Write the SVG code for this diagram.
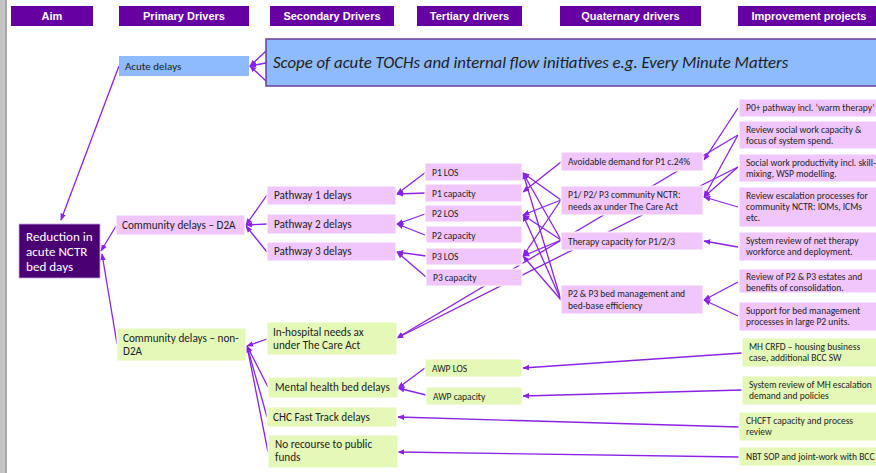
<svg xmlns="http://www.w3.org/2000/svg" width="876" height="473" viewBox="0 0 876 473">
<style>
.hdr{fill:#6600a3}
.ht{fill:#fff;font-family:"Liberation Sans",Arial,sans-serif;font-weight:bold;font-size:11px;text-anchor:middle}
.pk{fill:#f0c6fc;stroke:#fff;stroke-width:1}
.gr{fill:#e4f8b8;stroke:#fff;stroke-width:1}
.bl{fill:#8ebbfb}
.t{font-family:Carlito,Lato,"Liberation Sans",sans-serif;fill:#1e1e1e}
.s9{font-size:9.5px}
.s10{font-size:11.2px}
.cn line{stroke:#8a22e6;stroke-width:1.3;marker-end:url(#ah)}
</style>
<defs>
<marker id="ah" viewBox="0 0 10 10" refX="9" refY="5" markerWidth="7" markerHeight="7" markerUnits="userSpaceOnUse" orient="auto">
<path d="M0,1 L10,5 L0,9 z" fill="#8a22e6"/>
</marker>
</defs>
<rect x="0" y="0" width="876" height="473" fill="#fff"/>
<rect x="0" y="0" width="7" height="473" fill="#c4c4c4"/>
<rect x="5" y="0" width="2" height="473" fill="#a8a8a8"/>

<g id="headers">
<rect class="hdr" x="11" y="6" width="82" height="20"/><text class="ht" x="52" y="20">Aim</text>
<rect class="hdr" x="119" y="6" width="130" height="20"/><text class="ht" x="184" y="20">Primary Drivers</text>
<rect class="hdr" x="270" y="6" width="124" height="20"/><text class="ht" x="332" y="20">Secondary Drivers</text>
<rect class="hdr" x="417" y="6" width="105" height="20"/><text class="ht" x="469.5" y="20">Tertiary drivers</text>
<rect class="hdr" x="560" y="6" width="141" height="20"/><text class="ht" x="630.5" y="20">Quaternary drivers</text>
<rect class="hdr" x="738" y="6" width="140" height="20"/><text class="ht" x="809" y="20">Improvement projects</text>
</g>

<g class="cn" id="connectors">
<line x1="119" y1="66" x2="61" y2="220"/>
<line x1="266" y1="51" x2="250" y2="66"/>
<line x1="266" y1="63" x2="250" y2="66"/>
<line x1="266" y1="81" x2="250" y2="66"/>
<line x1="116" y1="226" x2="101" y2="251"/>
<line x1="117" y1="344" x2="102" y2="254"/>
<line x1="267" y1="195" x2="246" y2="225"/>
<line x1="267" y1="224" x2="246" y2="225"/>
<line x1="267" y1="252" x2="246" y2="226"/>
<line x1="426" y1="172" x2="397" y2="194"/>
<line x1="426" y1="193" x2="397" y2="194"/>
<line x1="425" y1="214" x2="397" y2="224"/>
<line x1="425" y1="235" x2="397" y2="224"/>
<line x1="426" y1="256" x2="397" y2="252"/>
<line x1="426" y1="277" x2="397" y2="252"/>
<line x1="267" y1="339" x2="247" y2="346"/>
<line x1="268" y1="387" x2="247" y2="346"/>
<line x1="267" y1="417" x2="247" y2="346"/>
<line x1="268" y1="452" x2="247" y2="346"/>
<line x1="425" y1="368" x2="398" y2="388"/>
<line x1="426" y1="395" x2="398" y2="388"/>
<line x1="561" y1="162" x2="523" y2="192"/>
<line x1="561" y1="200" x2="523" y2="173"/>
<line x1="561" y1="200" x2="523" y2="215"/>
<line x1="561" y1="200" x2="523" y2="256"/>
<line x1="561" y1="240" x2="523" y2="173"/>
<line x1="561" y1="240" x2="523" y2="215"/>
<line x1="561" y1="240" x2="523" y2="256"/>
<line x1="561" y1="300" x2="523" y2="173"/>
<line x1="561" y1="300" x2="523" y2="215"/>
<line x1="561" y1="300" x2="523" y2="256"/>
<line x1="738" y1="108" x2="704" y2="160"/>
<line x1="738" y1="135" x2="704" y2="197"/>
<line x1="738" y1="135" x2="397" y2="338"/>
<line x1="738" y1="167" x2="704" y2="197"/>
<line x1="738" y1="167" x2="397" y2="338"/>
<line x1="738" y1="207" x2="704" y2="197"/>
<line x1="738" y1="247" x2="704" y2="241"/>
<line x1="738" y1="282" x2="704" y2="300"/>
<line x1="738" y1="316" x2="704" y2="300"/>
<line x1="742" y1="353" x2="523" y2="368"/>
<line x1="742" y1="390" x2="523" y2="396"/>
<line x1="739" y1="427" x2="398" y2="417"/>
<line x1="739" y1="457" x2="398" y2="452"/>
</g>

<g id="aim">
<rect x="19" y="224" width="81" height="54" fill="#4a0072" stroke="#c9a6e6" stroke-width="0.8"/>
<text class="t" x="26" y="241" font-size="13.1" style="fill:#fff">Reduction in</text>
<text class="t" x="26" y="256" font-size="13.1" style="fill:#fff">acute NCTR</text>
<text class="t" x="26" y="271" font-size="13.1" style="fill:#fff">bed days</text>
</g>

<g id="acute-delays"><rect class="bl" x="119" y="56" width="130" height="20"/><text class="t" font-size="11" x="125" y="70">Acute delays</text></g>
<g id="scope"><rect x="266" y="39" width="614" height="47" fill="#8ebbfb" stroke="#6a3f9c" stroke-width="1.5"/><text class="t" x="273" y="68" font-size="16.8" font-style="italic">Scope of acute TOCHs and internal flow initiatives e.g. Every Minute Matters</text></g>

<g id="d2a"><rect class="pk" x="116" y="215" width="129" height="20"/><text class="t s10" x="122" y="229">Community delays – D2A</text></g>
<g id="non-d2a"><rect class="gr" x="117" y="328" width="129" height="33"/><text class="t s10" x="123" y="342">Community delays – non-</text><text class="t s10" x="123" y="355">D2A</text></g>

<g id="pathway1"><rect class="pk" x="267" y="186" width="129" height="19"/><text class="t s10" x="274" y="199">Pathway 1 delays</text></g>
<g id="pathway2"><rect class="pk" x="267" y="214" width="129" height="20"/><text class="t s10" x="274" y="228">Pathway 2 delays</text></g>
<g id="pathway3"><rect class="pk" x="267" y="242" width="129" height="19"/><text class="t s10" x="274" y="255">Pathway 3 delays</text></g>
<g id="in-hospital"><rect class="gr" x="267" y="322" width="130" height="33"/><text class="t s10" x="273" y="336">In-hospital needs ax</text><text class="t s10" x="273" y="349">under The Care Act</text></g>
<g id="mental-health"><rect class="gr" x="268" y="377" width="130" height="21"/><text class="t s10" x="275" y="391">Mental health bed delays</text></g>
<g id="chc"><rect class="gr" x="267" y="407" width="130" height="20"/><text class="t s10" x="273" y="421">CHC Fast Track delays</text></g>
<g id="no-recourse"><rect class="gr" x="268" y="435" width="130" height="33"/><text class="t s10" x="275" y="448">No recourse to public</text><text class="t s10" x="275" y="461">funds</text></g>

<g id="p1-los"><rect class="pk" x="425" y="163" width="97" height="18"/><text class="t s9" x="432" y="176">P1 LOS</text></g>
<g id="p1-cap"><rect class="pk" x="425" y="184" width="97" height="18"/><text class="t s9" x="432" y="197">P1 capacity</text></g>
<g id="p2-los"><rect class="pk" x="425" y="205" width="97" height="17"/><text class="t s9" x="432" y="217">P2 LOS</text></g>
<g id="p2-cap"><rect class="pk" x="426" y="226" width="96" height="17"/><text class="t s9" x="432" y="239">P2 capacity</text></g>
<g id="p3-los"><rect class="pk" x="426" y="248" width="96" height="17"/><text class="t s9" x="432" y="260">P3 LOS</text></g>
<g id="p3-cap"><rect class="pk" x="426" y="269" width="96" height="17"/><text class="t s9" x="433" y="281">P3 capacity</text></g>
<g id="awp-los"><rect class="gr" x="425" y="359" width="97" height="18"/><text class="t s9" x="432" y="372">AWP LOS</text></g>
<g id="awp-cap"><rect class="gr" x="426" y="387" width="96" height="18"/><text class="t s9" x="433" y="400">AWP capacity</text></g>

<g id="avoidable"><rect class="pk" x="561" y="152" width="142" height="19"/><text class="t s9" x="568" y="165">Avoidable demand for P1 c.24%</text></g>
<g id="nctr"><rect class="pk" x="561" y="186" width="142" height="29"/><text class="t s9" x="568" y="198">P1/ P2/ P3 community NCTR:</text><text class="t s9" x="568" y="210">needs ax under The Care Act</text></g>
<g id="therapy"><rect class="pk" x="561" y="232" width="142" height="18"/><text class="t s9" x="568" y="245">Therapy capacity for P1/2/3</text></g>
<g id="bed-mgmt"><rect class="pk" x="561" y="285" width="142" height="29"/><text class="t s9" x="568" y="297">P2 &amp; P3 bed management and</text><text class="t s9" x="568" y="309">bed-base efficiency</text></g>

<g id="p0"><rect class="pk" x="739" y="99" width="140" height="18"/><text class="t s9" x="746" y="111">P0+ pathway incl. ‘warm therapy’</text></g>
<g id="sw-capacity"><rect class="pk" x="739" y="121" width="140" height="28"/><text class="t s9" x="746" y="133">Review social work capacity &amp;</text><text class="t s9" x="746" y="144">focus of system spend.</text></g>
<g id="sw-productivity"><rect class="pk" x="739" y="154" width="140" height="28"/><text class="t s9" x="746" y="166">Social work productivity incl. skill-</text><text class="t s9" x="746" y="177">mixing, WSP modelling.</text></g>
<g id="escalation"><rect class="pk" x="739" y="187" width="140" height="40"/><text class="t s9" x="746" y="199">Review escalation processes for</text><text class="t s9" x="746" y="210">community NCTR: IOMs, ICMs</text><text class="t s9" x="746" y="221">etc.</text></g>
<g id="net-therapy"><rect class="pk" x="739" y="232" width="140" height="29"/><text class="t s9" x="746" y="244">System review of net therapy</text><text class="t s9" x="746" y="255">workforce and deployment.</text></g>
<g id="estates"><rect class="pk" x="739" y="269" width="140" height="24"/><text class="t s9" x="746" y="280">Review of P2 &amp; P3 estates and</text><text class="t s9" x="746" y="291">benefits of consolidation.</text></g>
<g id="bed-support"><rect class="pk" x="739" y="302" width="140" height="29"/><text class="t s9" x="746" y="314">Support for bed management</text><text class="t s9" x="746" y="325">processes in large P2 units.</text></g>
<g id="mh-crfd"><rect class="gr" x="742" y="338" width="137" height="29"/><text class="t s9" x="749" y="350">MH CRFD – housing business</text><text class="t s9" x="749" y="361">case, additional BCC SW</text></g>
<g id="mh-escalation"><rect class="gr" x="742" y="376" width="137" height="29"/><text class="t s9" x="749" y="388">System review of MH escalation</text><text class="t s9" x="749" y="399">demand and policies</text></g>
<g id="chcft"><rect class="gr" x="739" y="412" width="140" height="29"/><text class="t s9" x="746" y="424">CHCFT capacity and process</text><text class="t s9" x="746" y="435">review</text></g>
<g id="nbt"><rect class="gr" x="739" y="447" width="140" height="19"/><text class="t s9" x="746" y="460">NBT SOP and joint-work with BCC</text></g>
</svg>
